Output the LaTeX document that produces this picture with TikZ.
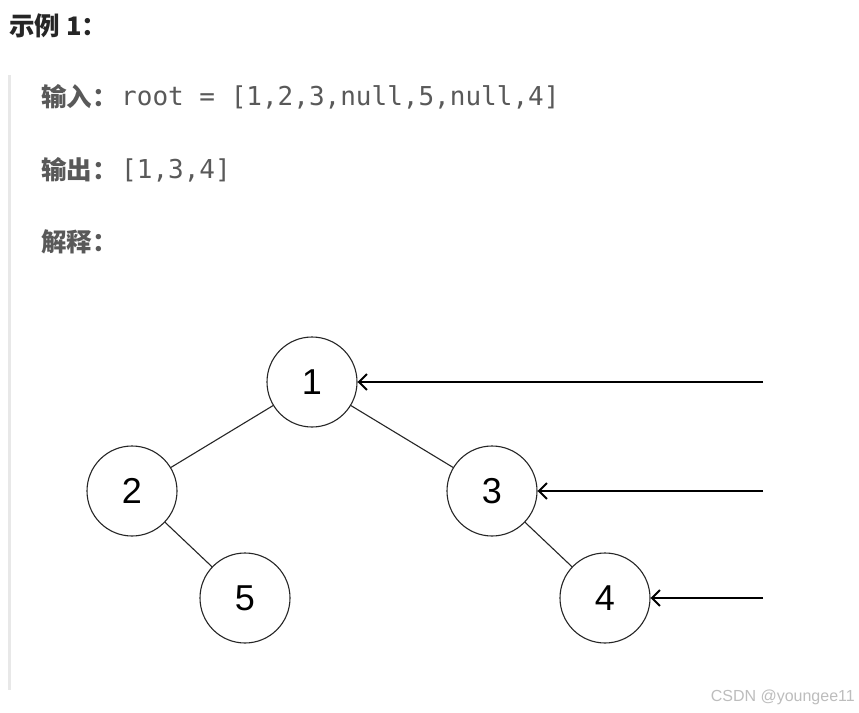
\documentclass[tikz,border=0pt]{standalone}
\usepackage{fontspec}
\setmainfont{Liberation Sans}
\newfontfamily\cjk{Noto Sans CJK SC}
\newfontfamily\monof{DejaVu Sans Mono}
\usetikzlibrary{arrows.meta}
\definecolor{title}{HTML}{262626}
\definecolor{body}{HTML}{595959}
\definecolor{barc}{HTML}{E8E8E8}
\definecolor{wm}{HTML}{BDBDBD}
\begin{document}
\begin{tikzpicture}[x=1pt,y=-1pt,
  tn/.style={circle,draw=black!85,line width=1.1pt,minimum size=90pt,inner sep=0pt,font=\fontsize{36}{36}\selectfont},
  edge/.style={draw=black!85,line width=1.1pt},
  ptr/.style={draw=black,line width=2.4pt,-{Straight Barb[length=8pt,width=16pt,line width=2pt]}},
  lbl/.style={anchor=west,inner sep=0pt,text=body,font=\cjk\bfseries\fontsize{25.5}{25.5}\selectfont}]
\useasboundingbox (0,0) rectangle (859,712);
\fill[white] (0,0) rectangle (859,712);
% title
\node[anchor=west,inner sep=0pt,text=title,font=\cjk\bfseries\fontsize{25.5}{25.5}\selectfont] (t) at (9,26) {示例 1：};
% left bar
\fill[barc] (8,75) rectangle (11,690);
% lines
\node[lbl] (in) at (41,97) {输入：};
\node[anchor=west,inner sep=0pt,text=body,font=\monof\fontsize{26}{26}\selectfont] (inv) at (121,97) {root = [1,2,3,null,5,null,4]};
\node[lbl] (out) at (41,170) {输出：};
\node[anchor=west,inner sep=0pt,text=body,font=\monof\fontsize{26}{26}\selectfont] (outv) at (121,170) {[1,3,4]};
\node[lbl] (ex) at (41,242) {解释：};
% tree
\node[tn] (n1) at (312,382) {1};
\node[tn] (n2) at (132,491) {2};
\node[tn] (n3) at (492,491) {3};
\node[tn] (n5) at (245,598) {5};
\node[tn] (n4) at (605,598) {4};
\draw[edge] (n1) -- (n2);
\draw[edge] (n1) -- (n3);
\draw[edge] (n2) -- (n5);
\draw[edge] (n3) -- (n4);
\coordinate (a1) at (763,382);
\coordinate (a3) at (763,491);
\coordinate (a4) at (763,598);
\draw[ptr] (a1) -- (n1);
\draw[ptr] (a3) -- (n3);
\draw[ptr] (a4) -- (n4);
% watermark
\node[anchor=east,inner sep=0pt,text=wm,font=\fontsize{16}{16}\selectfont] (w) at (855,697) {CSDN @youngee11};
\end{tikzpicture}
\end{document}
